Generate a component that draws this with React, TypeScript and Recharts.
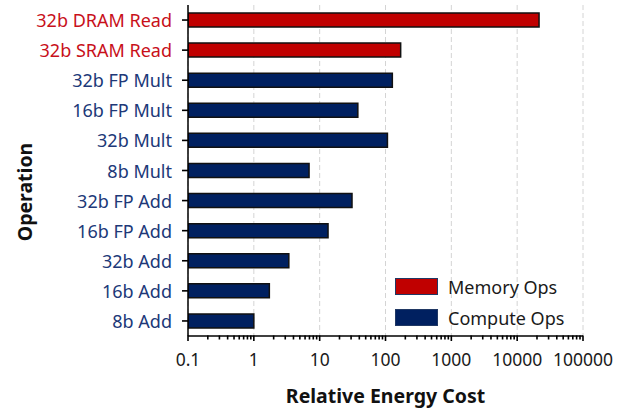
import { BarChart, Bar, Cell, XAxis, YAxis, CartesianGrid, Legend } from 'recharts'

const categories = [
  '32b DRAM Read',
  '32b SRAM Read',
  '32b FP Mult',
  '16b FP Mult',
  '32b Mult',
  '8b Mult',
  '32b FP Add',
  '16b FP Add',
  '32b Add',
  '16b Add',
  '8b Add',
]
const energy = [21500, 170, 127, 38, 107, 6.9, 31, 13.4, 3.4, 1.72, 1]
const kinds = ['memory', 'memory', 'compute', 'compute', 'compute', 'compute', 'compute', 'compute', 'compute', 'compute', 'compute']
const majorTicks = [0.1, 1, 10, 100, 1000, 10000, 100000]
const legendItems = [
  { kind: 'memory', label: 'Memory Ops' },
  { kind: 'compute', label: 'Compute Ops' },
]

const FONT = '"Noto Sans", sans-serif'
const fills: Record<string, string> = { memory: '#c00000', compute: '#002060' }
const textColors: Record<string, string> = { memory: '#c8101a', compute: '#203878' }

// plot box edges (margins + axis sizes below)
const PLOT_LEFT = 188
const PLOT_BOTTOM = 336

// minor ticks 2..9 in every decade, labels only at powers of ten
const allTicks: number[] = []
majorTicks.forEach((t, i) => {
  allTicks.push(t)
  if (i < majorTicks.length - 1) for (let k = 2; k <= 9; k++) allTicks.push(+(t * k).toPrecision(3))
})
const isMajor = (v: number) => majorTicks.includes(v)

const data = categories.map((name, i) => ({ name, value: energy[i], kind: kinds[i] }))

function XTick(props: any) {
  const { x, payload } = props
  const major = isMajor(payload.value)
  return (
    <g>
      <rect x={x - 0.8} y={PLOT_BOTTOM - 0.5} width={1.6} height={major ? 5.5 : 4} fill="#000" />
      {major && (
        <text x={x} y={PLOT_BOTTOM + 30} textAnchor="middle" fontSize={17.5} fill="#1a1a1a" fontFamily={FONT}>
          {String(payload.value)}
        </text>
      )}
    </g>
  )
}

function YTick(props: any) {
  const { y, payload } = props
  const kind = kinds[categories.indexOf(payload.value)]
  return (
    <g>
      <rect x={PLOT_LEFT - 6} y={y - 0.8} width={6} height={1.6} fill="#000" />
      <text x={PLOT_LEFT - 16} y={y} textAnchor="end" dominantBaseline="central" fontSize={18} fill={textColors[kind]} fontFamily={FONT}>
        {payload.value}
      </text>
    </g>
  )
}

function LegendBox() {
  return (
    <div style={{ fontFamily: FONT, fontSize: 18, color: '#1a1a1a' }}>
      {legendItems.map((it) => (
        <div key={it.kind} style={{ display: 'flex', alignItems: 'center', height: 31 }}>
          <div style={{ width: 41, height: 15, background: fills[it.kind], border: '1.5px solid #203864', marginRight: 10 }} />
          <span>{it.label}</span>
        </div>
      ))}
    </div>
  )
}

export default function App() {
  return (
    <div style={{ position: 'relative', width: 633, height: 411 }}>
      <style>{'body{margin:0}'}</style>
      <BarChart
        width={633}
        height={411}
        data={data}
        layout="vertical"
        margin={{ top: 5, right: 50, bottom: 0, left: 0 }}
      >
        <CartesianGrid horizontal={false} verticalValues={majorTicks} stroke="#d4d4d4" strokeDasharray="5 3" />
        <XAxis
          type="number"
          scale="log"
          domain={[0.1, 100000]}
          ticks={allTicks}
          interval={0}
          allowDataOverflow
          height={411 - PLOT_BOTTOM}
          tick={<XTick />}
          tickLine={false}
          axisLine={{ stroke: '#000', strokeWidth: 1.5 }}
          label={{
            content: (p: any) => {
              const vb = p.viewBox
              return (
                <text x={vb.x + vb.width / 2} y={403} textAnchor="middle" fontSize={19.5} fontWeight="bold" fill="#111" fontFamily={FONT}>
                  Relative Energy Cost
                </text>
              )
            },
          }}
        />
        <XAxis
          xAxisId="top"
          orientation="top"
          type="number"
          scale="log"
          domain={[0.1, 100000]}
          allowDataOverflow
          height={0}
          tick={false}
          tickLine={false}
          axisLine={{ stroke: '#000', strokeWidth: 1.5 }}
        />
        <YAxis
          type="category"
          dataKey="name"
          width={PLOT_LEFT}
          tick={<YTick />}
          tickLine={false}
          axisLine={{ stroke: '#000', strokeWidth: 1.5 }}
          label={{
            content: () => (
              <text transform="translate(24,192) rotate(-90)" textAnchor="middle" dominantBaseline="central" fontSize={19.5} fontWeight="bold" fill="#111" fontFamily={FONT}>
                Operation
              </text>
            ),
          }}
        />
        <YAxis
          yAxisId="right"
          orientation="right"
          type="category"
          dataKey="name"
          width={0}
          tick={false}
          tickLine={false}
          axisLine={{ stroke: '#000', strokeWidth: 1.5 }}
        />
        <Legend
          layout="horizontal"
          verticalAlign="middle"
          align="center"
          content={<LegendBox />}
          wrapperStyle={{ position: 'absolute', left: 395, top: 271, width: 'auto' }}
        />
        <Bar dataKey="value" barSize={14} stroke="#111" strokeWidth={1.5} isAnimationActive={false}>
          {data.map((d) => (
            <Cell key={d.name} fill={fills[d.kind]} />
          ))}
        </Bar>
      </BarChart>
    </div>
  )
}
